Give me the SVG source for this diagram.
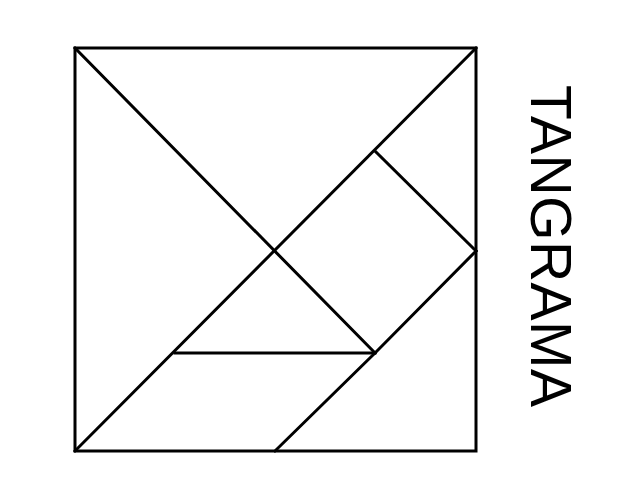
<svg xmlns="http://www.w3.org/2000/svg" width="638" height="493" viewBox="0 0 638 493">
<style>
.l{stroke:#000;stroke-width:3;fill:none;stroke-linecap:square;stroke-linejoin:miter}
.t{font-family:"Liberation Sans",Arial,sans-serif;font-size:57px;fill:#000}
</style>
<rect width="638" height="493" fill="#fff"/>
<g id="square"><rect class="l" x="75" y="48" width="401" height="403"/></g>
<g id="connectors">
<line class="l" x1="75" y1="48" x2="375" y2="353"/>
<line class="l" x1="75" y1="451" x2="476" y2="48"/>
<line class="l" x1="175" y1="353" x2="375" y2="353"/>
<polyline class="l" points="275,451 375,353 476,251"/>
<line class="l" x1="376" y1="152" x2="476" y2="251"/>
</g>
<g id="title"><text class="t" transform="translate(531,85) rotate(90)" textLength="322">TANGRAMA</text></g>
</svg>
